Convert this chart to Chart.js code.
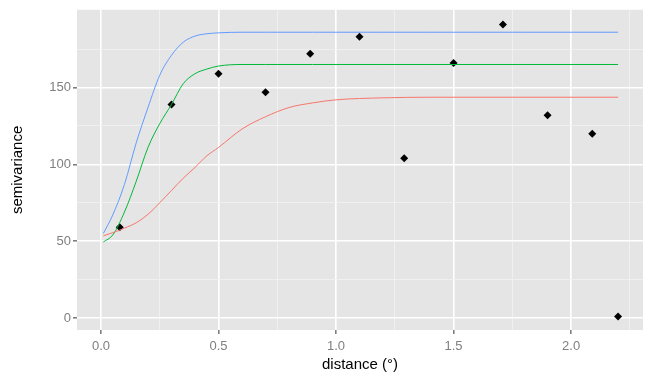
<!DOCTYPE html>
<html>
<head>
<meta charset="utf-8">
<script src="https://cdn.jsdelivr.net/npm/chart.js@4"></script>
<style>
  html, body { margin: 0; padding: 0; background: #fff; }
  #wrap { width: 650px; height: 374px; }
</style>
</head>
<body>
<div id="wrap"><canvas id="vario"></canvas></div>
<script>
// empirical semivariogram
var lagDist = [0.08, 0.30, 0.50, 0.70, 0.89, 1.10, 1.29, 1.50, 1.71, 1.90, 2.09, 2.20];
var lagGamma = [59, 139, 159, 147, 172, 183, 104, 166, 191, 132, 120, 1];

// fitted model curves, sampled along distance
var modelDist = [0.01, 0.05, 0.10, 0.15, 0.20, 0.25, 0.30, 0.35, 0.40, 0.45, 0.50,
                 0.60, 0.70, 0.80, 0.90, 1.00, 1.20, 1.40, 1.60, 1.80, 2.00, 2.20];
var fitBlue  = [55, 67, 87, 114, 137, 158, 171, 179.5, 183.5, 185, 185.6,
                186, 186, 186, 186, 186, 186, 186, 186, 186, 186, 186];
var fitGreen = [49.5, 54, 69, 89, 111, 126.5, 139, 152.5, 159, 162, 164,
                165, 165, 165, 165, 165, 165, 165, 165, 165, 165, 165];
var fitRed   = [53.5, 55.5, 58.5, 62, 67.5, 75, 83, 91, 98, 105.5, 111,
                123, 131, 137, 140, 142, 143.3, 143.7, 143.7, 143.7, 143.7, 143.7];

var xMajor = [0, 0.5, 1.0, 1.5, 2.0];
var xMinor = [0.25, 0.75, 1.25, 1.75, 2.25];
var yMajor = [0, 50, 100, 150];
var yMinor = [25, 75, 125, 175];

function pts(xs, ys) {
  return xs.map(function (x, i) { return { x: x, y: ys[i] }; });
}

function curve(data, colour) {
  return {
    type: 'line',
    data: data,
    borderColor: colour,
    borderWidth: 1,
    pointRadius: 0,
    cubicInterpolationMode: 'monotone',
    fill: false
  };
}

// grey panel behind the plot area
var panelBg = {
  id: 'panelBg',
  beforeDraw: function (chart) {
    var a = chart.chartArea, ctx = chart.ctx;
    ctx.save();
    ctx.fillStyle = '#E5E5E5';
    ctx.fillRect(a.left, a.top, a.right - a.left, a.bottom - a.top);
    ctx.restore();
  }
};

function isMajor(list, v) {
  return list.some(function (m) { return Math.abs(m - v) < 1e-6; });
}

var tickFont = { family: 'Liberation Sans, Arial, sans-serif', size: 13 };
var titleFont = { family: 'Liberation Sans, Arial, sans-serif', size: 15 };

new Chart(document.getElementById('vario'), {
  type: 'scatter',
  data: {
    datasets: [
      curve(pts(modelDist, fitRed), '#F8766D'),
      curve(pts(modelDist, fitGreen), '#00BA38'),
      curve(pts(modelDist, fitBlue), '#619CFF'),
      {
        type: 'scatter',
        data: pts(lagDist, lagGamma),
        pointStyle: 'rectRot',
        pointRadius: 4,
        backgroundColor: '#000',
        borderColor: '#000',
        borderWidth: 0
      }
    ]
  },
  options: {
    responsive: true,
    maintainAspectRatio: false,
    animation: false,
    layout: { padding: { top: 9, right: 7, left: 0, bottom: 0 } },
    plugins: { legend: { display: false }, tooltip: { enabled: false } },
    scales: {
      x: {
        type: 'linear',
        min: -0.102,
        max: 2.306,
        afterBuildTicks: function (s) {
          s.ticks = xMajor.concat(xMinor).map(function (v) { return { value: v }; });
        },
        afterFit: function (s) { s.height = 44; },
        border: { display: false },
        grid: {
          drawTicks: true,
          tickLength: 4,
          lineWidth: function (c) { return isMajor(xMajor, c.tick.value) ? 1.6 : 0.8; },
          color: function (c) { return isMajor(xMajor, c.tick.value) ? '#FFFFFF' : '#F2F2F2'; },
          tickColor: function (c) { return isMajor(xMajor, c.tick.value) ? '#7F7F7F' : 'rgba(0,0,0,0)'; }
        },
        ticks: {
          autoSkip: false,
          maxRotation: 0,
          padding: 5,
          color: '#7F7F7F',
          font: tickFont,
          callback: function (v) { return isMajor(xMajor, v) ? v.toFixed(1) : ''; }
        },
        title: {
          display: true,
          text: 'distance (°)',
          color: '#000',
          font: titleFont,
          padding: { top: 0, bottom: 0 }
        }
      },
      y: {
        type: 'linear',
        min: -7.8,
        max: 200.6,
        afterBuildTicks: function (s) {
          s.ticks = yMajor.concat(yMinor).map(function (v) { return { value: v }; });
        },
        afterFit: function (s) { s.width = 77; },
        border: { display: false },
        grid: {
          drawTicks: true,
          tickLength: 4,
          lineWidth: function (c) { return isMajor(yMajor, c.tick.value) ? 1.6 : 0.8; },
          color: function (c) { return isMajor(yMajor, c.tick.value) ? '#FFFFFF' : '#F2F2F2'; },
          tickColor: function (c) { return isMajor(yMajor, c.tick.value) ? '#7F7F7F' : 'rgba(0,0,0,0)'; }
        },
        ticks: {
          autoSkip: false,
          padding: 2,
          color: '#7F7F7F',
          font: tickFont,
          callback: function (v) { return isMajor(yMajor, v) ? String(v) : ''; }
        },
        title: {
          display: true,
          text: 'semivariance',
          color: '#000',
          font: titleFont,
          padding: { top: 9, bottom: 0 }
        }
      }
    }
  },
  plugins: [panelBg]
});
</script>
</body>
</html>
